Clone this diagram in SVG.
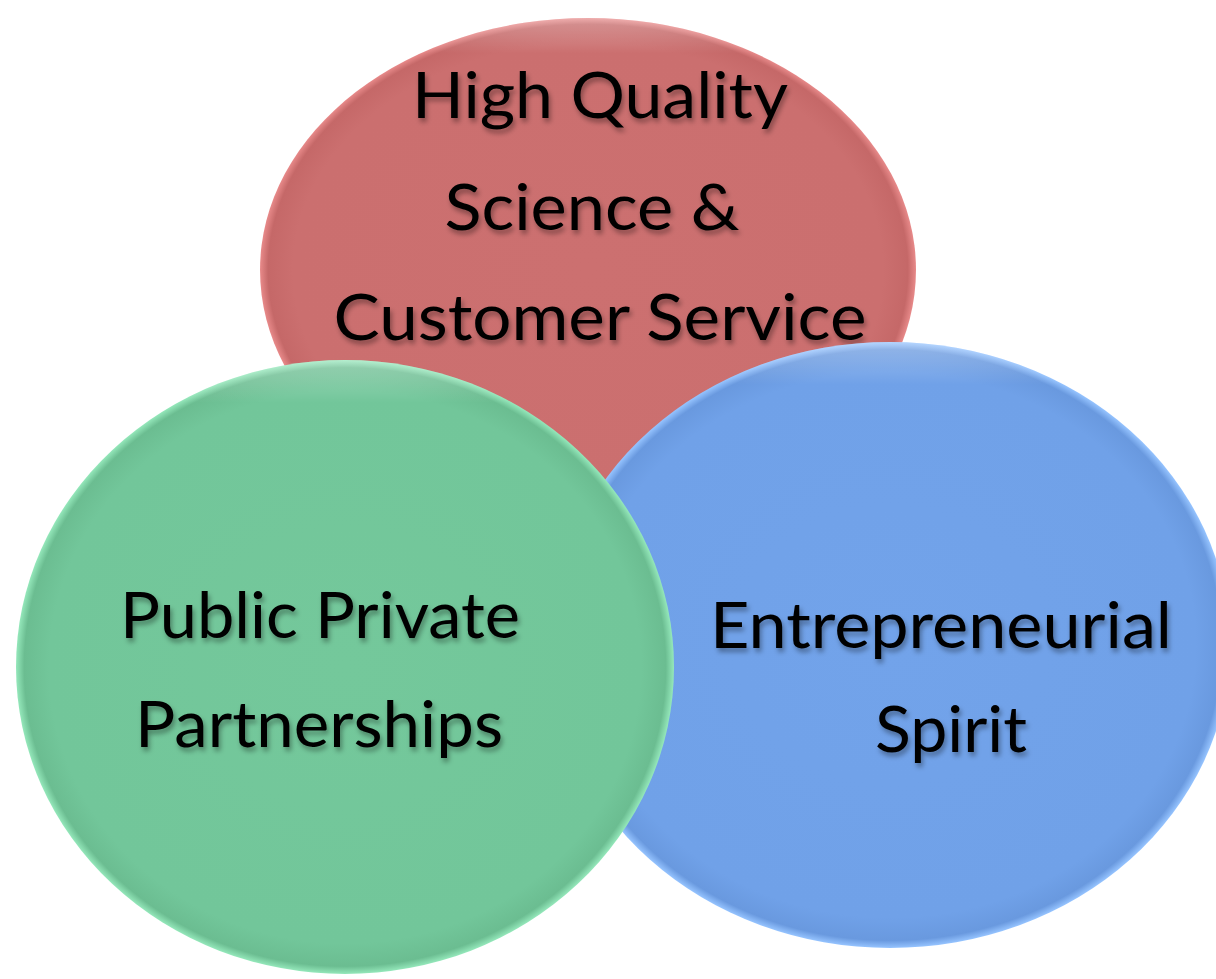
<svg xmlns="http://www.w3.org/2000/svg" width="1216" height="979" viewBox="0 0 1216 979">
  <style>
    .lbl { font-family: Lato, "Liberation Sans", sans-serif; font-size: 64px; fill: #000; text-anchor: middle; filter: url(#txtShadow); }
  </style>
  <defs>
    <filter id="txtShadow" x="-10%" y="-30%" width="120%" height="170%">
      <feDropShadow dx="2" dy="4" stdDeviation="2.5" flood-color="#000" flood-opacity="0.35"/>
    </filter>
    <radialGradient id="gRed" cx="0.5" cy="0.5" r="0.5">
      <stop offset="0" stop-color="#cc7070"/>
      <stop offset="0.9" stop-color="#cb6f6f"/>
      <stop offset="0.975" stop-color="#c56868"/>
      <stop offset="1" stop-color="#e88a8a"/>
    </radialGradient>
    <radialGradient id="gGreen" cx="0.5" cy="0.5" r="0.5">
      <stop offset="0" stop-color="#74c89b"/>
      <stop offset="0.9" stop-color="#72c69a"/>
      <stop offset="0.975" stop-color="#6bbd91"/>
      <stop offset="1" stop-color="#95e8bb"/>
    </radialGradient>
    <radialGradient id="gBlue" cx="0.5" cy="0.5" r="0.5">
      <stop offset="0" stop-color="#72a3ea"/>
      <stop offset="0.9" stop-color="#70a1e8"/>
      <stop offset="0.975" stop-color="#6999df"/>
      <stop offset="1" stop-color="#96c4ff"/>
    </radialGradient>
    <linearGradient id="topHi" x1="0" y1="0" x2="0" y2="1">
      <stop offset="0" stop-color="#fff" stop-opacity="0.3"/>
      <stop offset="0.07" stop-color="#fff" stop-opacity="0"/>
      <stop offset="1" stop-color="#fff" stop-opacity="0"/>
    </linearGradient>
  </defs>

  <g id="node-quality">
    <ellipse cx="588" cy="270" rx="328" ry="252" fill="url(#gRed)"/>
    <ellipse cx="588" cy="270" rx="328" ry="252" fill="url(#topHi)"/>
    <text class="lbl" x="600" y="118" textLength="376" lengthAdjust="spacingAndGlyphs">High Quality</text>
    <text class="lbl" x="592" y="230" textLength="295" lengthAdjust="spacingAndGlyphs">Science &amp;</text>
    <text class="lbl" x="600" y="340" textLength="533" lengthAdjust="spacingAndGlyphs">Customer Service</text>
  </g>

  <g id="node-entrepreneurial">
    <ellipse cx="890" cy="645" rx="340" ry="303" fill="url(#gBlue)"/>
    <ellipse cx="890" cy="645" rx="340" ry="303" fill="url(#topHi)"/>
    <text class="lbl" x="941" y="648" textLength="462" lengthAdjust="spacingAndGlyphs">Entrepreneurial</text>
    <text class="lbl" x="951" y="752" textLength="152" lengthAdjust="spacingAndGlyphs">Spirit</text>
  </g>

  <g id="node-partnerships">
    <ellipse cx="345" cy="667" rx="329" ry="307" fill="url(#gGreen)"/>
    <ellipse cx="345" cy="667" rx="329" ry="307" fill="url(#topHi)"/>
    <text class="lbl" x="320" y="638" textLength="400" lengthAdjust="spacingAndGlyphs">Public Private</text>
    <text class="lbl" x="319" y="747" textLength="368" lengthAdjust="spacingAndGlyphs">Partnerships</text>
  </g>

  <g id="connectors"></g>
</svg>
